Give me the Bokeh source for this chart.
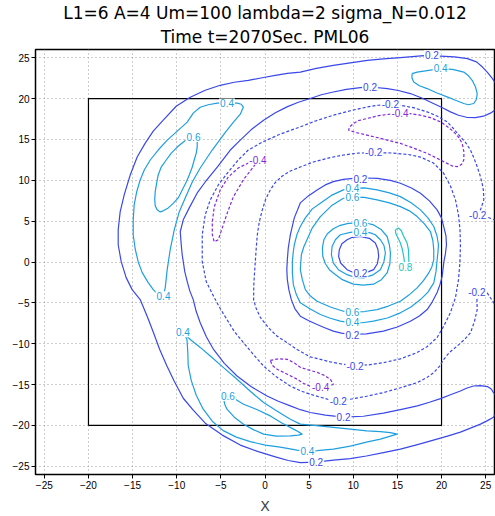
from bokeh.plotting import figure
from bokeh.models import Range1d, FixedTicker, Title
from bokeh.embed import file_html
from bokeh.resources import INLINE
from bokeh.core.properties import value

TITLE_1 = "L1=6 A=4 Um=100 lambda=2 sigma_N=0.012"
TITLE_2 = "Time t=2070Sec. PML06"
TICKS = [-25, -20, -15, -10, -5, 0, 5, 10, 15, 20, 25]
BOX_X = [-20, 20, 20, -20, -20]
BOX_Y = [-20, -20, 20, 20, -20]

# ---- contour lines (data coordinates) ----
# 0.2 : large C-shaped band (closes beyond the right edge)
c1_x = [-11.53,-10.06,-8.47,-6.77,-5.07,-3.48,-1.89,-0.31,1.17,2.53,4.0,5.82,7.74,9.67,11.6,13.41,15.34,16.7,17.95,19.88,21.46,22.94,23.96,24.64,25.2,25.77,26.34,26.68,26.68,26.34,25.54,24.75,23.84,22.94,21.92,21.01,20.1,19.08,17.83,16.47,15.11,13.87,11.94,10.8,9.22,7.74,6.38,5.13,3.78,2.49,1.17,-0.16,-1.55,-2.8,-3.93,-5.41,-6.77,-7.68,-8.58,-9.26,-9.6,-9.49,-9.38,-9.26,-9.09,-8.81,-8.53,-8.13,-7.79,-7.34,-6.66,-5.83,-4.61,-3.17,-1.55,0.23,1.51,2.87,4.0,5.13,6.84,8.88,11.15,13.41,15.34,17.27,18.63,19.88,21.01,22.14,22.82,23.62,24.41,25.2,25.66,25.88,26.34,26.56,26.34,25.88,25.2,24.41,23.28,22.14,20.67,19.08,17.27,15.34,13.41,11.49,9.67,7.74,5.82,4.0,2.64,1.36,-0.76,-2.8,-4.84,-6.77,-8.13,-9.26,-10.28,-11.11,-11.93,-12.63,-13.34,-14.14,-15.05,-15.73,-16.29,-16.63,-16.63,-16.41,-15.95,-15.27,-14.48,-13.57,-12.66,-11.53]
c1_y = [17.35,19.06,20.16,21.01,21.62,21.99,22.23,22.54,22.84,23.09,23.24,23.7,24.06,24.37,24.67,24.85,25.0,25.12,25.24,25.2,25.1,24.88,24.49,23.85,23.21,22.44,21.5,20.4,19.43,18.82,18.21,17.84,17.66,17.68,17.96,18.37,18.88,19.39,20.04,20.61,20.98,21.22,21.41,21.34,21.13,20.8,20.46,20.0,19.55,18.98,18.27,17.35,16.2,14.91,13.7,11.62,9.79,8.45,6.62,5.16,3.7,2.11,0.89,0.04,-1.18,-2.4,-3.5,-4.6,-6.06,-7.44,-9.11,-10.7,-12.4,-13.95,-15.27,-16.39,-17.04,-17.61,-18.07,-18.41,-18.74,-18.99,-18.87,-18.5,-18.07,-17.61,-17.16,-16.71,-16.24,-15.78,-15.45,-15.17,-15.12,-15.24,-15.57,-15.98,-16.55,-17.4,-18.26,-18.99,-19.41,-19.84,-20.33,-20.82,-21.3,-21.8,-22.34,-22.89,-23.32,-23.74,-24.05,-24.23,-24.48,-24.54,-24.29,-23.9,-23.2,-22.4,-21.18,-19.72,-18.13,-16.67,-14.6,-12.73,-10.7,-8.66,-6.67,-4.6,-3.38,-1.91,0.04,2.11,3.94,6.13,8.21,10.65,12.84,14.55,16.01,17.35]

# 0.2 / 0.4 / 0.6 rings of the vortex
c2_x = [10.01,11.49,12.73,14.2,15.34,16.59,17.61,18.63,19.5,19.99,20.25,20.5,20.56,20.44,20.27,20.16,20.07,19.82,19.5,18.97,18.37,17.49,16.47,15.0,13.41,11.49,9.67,8.65,7.74,6.83,5.9,4.91,4.0,3.38,2.98,2.7,2.53,2.47,2.53,2.64,2.87,3.32,4.0,4.91,5.9,6.83,7.74,8.88,10.01]
c2_y = [10.24,10.28,10.24,9.98,9.63,9.06,8.41,7.48,6.38,5.4,4.34,3.21,2.11,1.01,0.04,-0.94,-1.76,-2.77,-3.74,-4.84,-5.82,-6.61,-7.24,-7.95,-8.46,-8.8,-8.87,-8.71,-8.46,-8.07,-7.65,-7.16,-6.63,-5.7,-4.6,-3.38,-2.16,-0.94,0.28,1.74,3.33,5.4,7.23,8.09,8.82,9.43,9.83,10.1,10.24]

c3_x = [9.86,11.26,12.7,14.09,15.34,16.59,17.61,18.46,19.12,19.48,19.65,19.59,19.5,19.37,19.12,18.46,17.61,16.53,15.34,13.87,12.28,11.03,9.86,8.53,7.4,6.27,5.13,4.0,3.55,3.21,3.1,3.1,3.19,3.32,3.61,4.0,4.57,5.36,6.27,7.52,8.88,9.86]
c3_y = [9.02,9.06,8.82,8.45,8.0,7.23,6.38,5.4,4.34,3.21,2.11,1.13,0.28,-1.18,-2.56,-3.68,-4.6,-5.51,-6.22,-6.85,-7.24,-7.43,-7.44,-7.24,-6.88,-6.43,-5.76,-5.0,-3.99,-2.77,-1.3,0.04,1.13,2.11,3.33,4.34,5.4,6.5,7.2,8.15,8.82,9.02]

c4_x = [9.86,11.26,12.7,14.09,15.34,16.36,17.23,18.06,18.74,19.02,19.12,19.12,18.91,18.55,17.95,17.23,16.3,15.34,13.98,12.7,11.26,9.86,8.88,7.4,5.9,5.14,4.57,4.23,4.0,4.06,4.12,4.4,4.76,5.36,6.27,7.52,8.88,9.86]
c4_y = [7.93,7.9,7.6,7.23,6.78,6.26,5.56,4.67,3.73,2.6,1.5,0.28,-0.57,-1.34,-2.28,-3.17,-4.05,-4.8,-5.39,-5.82,-6.06,-6.1,-6.02,-5.51,-4.8,-4.17,-3.38,-2.16,-0.94,0.04,0.89,1.87,2.72,4.18,5.56,6.87,7.8,7.93]

c5_x = [10.8,9.44,8.53,7.74,7.06,6.67,6.5,6.55,6.84,7.29,7.74,8.76,10.01,11.14,12.28,13.19,13.83,14.15,14.21,14.09,13.83,13.19,12.28,11.49,10.8]
c5_y = [4.79,4.73,4.49,4.06,3.45,2.72,1.74,0.68,-0.21,-0.94,-1.34,-2.16,-2.71,-2.83,-2.71,-2.16,-1.34,-0.21,1.1,2.11,3.12,3.94,4.55,4.77,4.79]

c6_x = [10.8,9.67,8.53,7.97,7.6,7.52,7.74,8.31,9.3,10.24,11.18,12.17,13.07,13.47,13.64,13.47,13.07,12.5,11.94,10.8]
c6_y = [3.76,3.63,3.33,2.72,1.9,0.89,-0.12,-0.94,-1.55,-1.89,-1.95,-1.61,-0.94,0.04,1.1,2.05,2.72,3.33,3.57,3.76]

c7_x = [10.8,9.89,9.3,8.71,8.42,8.34,8.59,9.3,10.01,10.8,11.6,12.31,12.73,12.88,12.79,12.5,11.82,10.8]
c7_y = [3.12,3.02,2.72,2.23,1.5,0.68,-0.15,-0.94,-1.28,-1.34,-1.24,-0.94,-0.21,0.68,1.56,2.32,2.9,3.12]

c8_x = [14.77,15.15,15.45,15.68,16.1,16.25,16.28,16.3,16.28,16.08,15.9,15.79,15.71,15.57,15.34,15.05,14.83,14.77]
c8_y = [3.94,4.15,3.82,3.21,2.32,1.5,0.68,0.04,-0.54,-0.7,-0.54,0.04,0.68,1.5,2.32,2.96,3.45,3.94]

# 0.4 top-right
c9_x = [16.67,16.64,16.85,17.49,18.37,19.42,20.63,21.58,22.52,23.05,23.65,23.96,24.04,23.84,23.47,23.05,22.52,21.24,19.88,19.12,18.17,17.23,16.67]
c9_y = [23.05,22.54,22.02,21.56,21.22,20.71,20.2,19.79,19.39,19.24,19.39,19.91,20.61,21.44,22.23,22.78,23.24,23.57,23.66,23.54,23.39,23.24,23.05]

# -0.4 top
c10_x = [15.34,14.2,12.85,11.56,10.58,10.04,9.56,9.48,10.35,11.56,13.41,15.34,16.81,18.37,19.54,20.63,21.24,21.77,22.26,22.52,22.54,22.34,21.92,21.38,20.67,19.88,18.74,17.61,16.47,15.34]
c10_y = [18.24,18.09,17.9,17.56,17.29,16.95,16.5,16.13,15.83,15.52,15.04,14.51,13.94,13.29,12.66,12.07,11.74,11.66,11.93,12.48,13.45,14.51,15.28,15.93,16.56,17.15,17.66,17.96,18.15,18.24]

# -0.4 left
c11_x = [-0.76,-1.89,-3.03,-4.16,-5.07,-5.75,-5.97,-5.97,-5.75,-5.29,-4.84,-4.27,-3.59,-2.46,-1.33,-0.76]
c11_y = [12.48,12.11,11.5,10.4,8.82,6.74,4.91,3.33,2.48,2.72,4.18,6.01,7.96,10.04,11.62,12.48]

# -0.2 ring round the vortex
c12_x = [12.28,14.55,16.25,17.61,19.08,20.22,21.01,21.58,21.92,22.09,22.14,22.09,21.92,21.58,21.01,20.25,19.5,18.4,17.15,15.34,13.41,11.71,10.24,8.88,7.4,6.27,5.13,3.63,2.3,1.36,0.37,-0.53,-1.04,-1.29,-1.27,-1.16,-1.1,-0.99,-0.87,-0.65,-0.3,0.09,0.6,1.17,1.96,2.87,4.0,5.47,7.18,8.88,10.58,12.28]
c12_y = [13.37,13.33,13.15,12.84,12.11,10.89,9.3,7.6,5.77,3.94,2.11,0.04,-2.16,-4.35,-6.18,-7.85,-9.23,-10.33,-11.12,-11.85,-12.32,-12.59,-12.65,-12.52,-12.22,-11.91,-11.61,-10.7,-9.72,-9.07,-8.01,-6.79,-5.57,-4.6,-2.77,-0.94,0.04,1.74,3.33,4.91,6.38,7.72,8.82,9.73,10.52,11.13,11.62,12.23,12.72,13.09,13.33,13.37]

# 0.4 left
c13_x = [-4.27,-5.41,-6.43,-7.34,-8.13,-8.81,-9.94,-11.08,-12.1,-13.0,-13.68,-14.14,-14.54,-14.82,-14.93,-14.93,-14.71,-14.37,-13.91,-13.23,-12.66,-12.1,-11.53,-11.3,-11.08,-10.74,-10.28,-9.72,-9.04,-8.24,-7.34,-5.98,-4.39,-3.48,-2.8,-2.46,-2.69,-3.14,-4.27]
c13_y = [19.43,19.43,19.24,18.94,18.21,17.11,16.01,14.91,13.7,12.48,11.26,10.04,8.57,6.99,5.16,3.33,1.62,0.04,-1.3,-2.52,-3.38,-3.99,-4.23,-3.13,-0.94,1.5,3.94,6.13,7.84,9.79,11.5,13.7,16.01,17.23,18.09,18.94,19.3,19.43,19.43]

# 0.6 left
c14_x = [-8.13,-7.68,-7.68,-7.79,-8.02,-8.24,-8.58,-8.92,-9.38,-9.83,-10.4,-10.96,-11.53,-11.87,-12.21,-12.44,-12.49,-12.44,-12.27,-12.1,-11.76,-11.19,-10.62,-9.94,-9.38,-8.81,-8.13]
c14_y = [15.28,14.67,14.06,13.33,12.48,11.62,10.65,9.79,8.82,7.84,7.17,6.62,6.26,6.13,6.38,6.87,7.72,8.57,9.67,10.65,11.62,12.48,13.33,14.06,14.55,15.04,15.28]

# 0.4 bottom
c15_x = [-9.26,-8.84,-8.75,-8.7,-8.36,-7.79,-7.0,-5.98,-4.73,-3.25,-1.67,0.03,1.73,3.63,4.76,5.9,7.74,9.67,11.49,13.07,14.2,14.97,14.2,13.07,11.56,9.67,7.74,5.82,4.0,2.87,1.39,-0.16,-1.67,-3.17,-4.73,-6.2,-7.34,-8.47,-9.26]
c15_y = [-8.62,-9.48,-10.94,-12.65,-14.48,-16.3,-18.01,-19.48,-20.63,-21.43,-21.98,-22.4,-22.65,-23.01,-23.13,-23.07,-22.89,-22.52,-22.04,-21.67,-21.3,-21.06,-20.88,-20.76,-20.66,-20.45,-20.24,-20.02,-19.84,-19.23,-18.26,-17.2,-15.82,-14.35,-12.89,-11.51,-10.45,-9.48,-8.62]

# 0.6 bottom
c16_x = [-4.69,-4.56,-4.31,-3.48,-2.43,-1.33,-0.16,1.28,2.87,3.78,4.2,3.78,3.24,1.96,0.6,-0.87,-2.43,-3.37,-4.16,-4.69]
c16_y = [-16.79,-17.4,-18.01,-18.99,-19.84,-20.51,-21.06,-21.3,-21.27,-21.18,-21.06,-20.76,-20.45,-19.72,-18.83,-18.07,-17.4,-16.79,-16.43,-16.79]

# -0.4 bottom
c17_x = [0.6,1.51,2.53,3.32,4.0,4.91,5.93,6.72,7.4,7.74,7.06,6.04,5.13,4.34,3.66,2.53,1.39,0.82,0.6]
c17_y = [-12.04,-11.85,-11.91,-12.34,-12.89,-13.2,-13.5,-13.87,-14.35,-14.96,-15.33,-15.39,-15.21,-14.84,-14.35,-13.74,-13.13,-12.65,-12.04]

# -0.2 large band (open to the right edge)
c18_x = [26.68,25.09,24.07,24.41,24.79,24.75,24.6,24.35,24.04,23.67,23.28,22.77,22.14,21.41,20.63,19.54,18.37,16.81,15.34,14.2,12.85,11.6,9.67,7.74,5.82,4.0,1.73,-0.3,-1.89,-3.03,-4.16,-5.29,-6.2,-6.77,-7.11,-7.11,-6.66,-5.75,-5.07,-4.31,-3.48,-2.43,-1.33,-0.16,1.28,2.87,4.0,5.13,6.5,7.74,8.31,9.67,11.49,13.41,15.34,17.23,18.29,19.12,19.76,20.25,20.9,21.77,22.6,23.28,23.73,24.04,24.01,23.96,25.17,25.92,26.68]
c18_y = [4.91,5.52,5.65,6.38,7.6,8.7,9.63,10.65,11.66,12.72,13.7,14.55,15.32,16.26,17.15,17.84,18.37,18.88,19.18,19.3,19.18,18.98,18.51,17.96,17.29,16.54,15.65,14.67,13.7,12.48,11.01,9.43,7.6,5.77,3.33,0.04,-2.4,-4.35,-5.7,-7.04,-8.5,-9.88,-11.3,-12.73,-14.05,-15.17,-15.76,-16.18,-16.61,-17.0,-17.04,-16.79,-16.43,-15.98,-15.39,-14.76,-14.17,-13.54,-12.77,-11.91,-11.06,-10.29,-9.48,-8.66,-7.28,-5.82,-4.6,-3.74,-3.78,-5.0,-6.43]

contours = [
    (0.2, c1_x, c1_y), (0.2, c2_x, c2_y), (0.4, c3_x, c3_y), (0.6, c4_x, c4_y),
    (0.6, c5_x, c5_y), (0.4, c6_x, c6_y), (0.2, c7_x, c7_y), (0.8, c8_x, c8_y),
    (0.4, c9_x, c9_y), (-0.4, c10_x, c10_y), (-0.4, c11_x, c11_y), (-0.2, c12_x, c12_y),
    (0.4, c13_x, c13_y), (0.6, c14_x, c14_y), (0.4, c15_x, c15_y), (0.6, c16_x, c16_y),
    (-0.4, c17_x, c17_y), (-0.2, c18_x, c18_y),
]

# contour labels
lab_text = ["0.2","0.4","0.2","-0.2","-0.4","-0.2","0.2","0.4","0.6","0.6","0.4","0.2","0.8",
            "-0.2","-0.2","0.6","0.4","0.2","-0.2","-0.4","-0.2","0.2","0.4","0.2","0.4","0.6",
            "0.4","0.4","0.6","-0.4"]
lab_x = [18.9,19.9,11.9,14.2,15.3,12.3,10.8,9.9,9.9,10.8,10.8,10.8,15.9,
         24.1,24.0,9.9,9.9,9.9,10.2,6.3,8.3,8.9,4.8,5.8,-9.3,-4.2,
         -11.5,-4.3,-8.1,-0.8]
lab_y = [25.3,23.7,21.4,19.3,18.2,13.4,10.2,9.0,7.9,4.8,3.7,-1.3,-0.6,
         5.7,-3.7,-6.1,-7.4,-8.9,-12.7,-15.3,-17.0,-19.0,-23.1,-24.5,-8.6,-16.4,
         -4.2,19.4,15.3,12.5]
lab_level = [0.2,0.4,0.2,-0.2,-0.4,-0.2,0.2,0.4,0.6,0.6,0.4,0.2,0.8,
             -0.2,-0.2,0.6,0.4,0.2,-0.2,-0.4,-0.2,0.2,0.4,0.2,0.4,0.6,
             0.4,0.4,0.6,-0.4]

LEVEL_COLOR = {-0.4: "#8228dc", -0.2: "#3a48ea", 0.2: "#3a48ea",
               0.4: "#1e9fe0", 0.6: "#1e9fe0", 0.8: "#22c4c4"}

p = figure(width=495, height=516, x_range=Range1d(-26, 26), y_range=Range1d(-26, 26),
           output_backend="svg", toolbar_location=None,
           min_border_left=35, min_border_right=1, min_border_top=48, min_border_bottom=39)
p.title.visible = False
for txt, so in ((TITLE_2, 5), (TITLE_1, 0)):
    p.add_layout(Title(text=txt, align="center", text_font="DejaVu Sans",
                       text_font_size="17px", text_font_style="normal",
                       text_color="black", standoff=so), "above")

for ax in (p.xaxis[0], p.yaxis[0]):
    ax.ticker = FixedTicker(ticks=TICKS)
    ax.major_tick_out = 4
    ax.major_tick_in = 0
    ax.minor_tick_line_color = None
    ax.axis_line_color = "black"
    ax.major_label_text_font = "Liberation Sans"
    ax.major_label_text_font_size = "10px"
    ax.major_label_text_color = "black"
    ax.major_label_standoff = 2
p.xaxis.axis_label = "X"
p.xaxis.axis_label_text_font = "DejaVu Sans"
p.xaxis.axis_label_text_font_size = "14px"
p.xaxis.axis_label_text_font_style = "normal"
p.xaxis.axis_label_standoff = 6

for g in (p.xgrid[0], p.ygrid[0]):
    g.ticker = FixedTicker(ticks=TICKS)
    g.grid_line_color = "#9a9a9a"
    g.grid_line_dash = "1 3"
    g.grid_line_width = 1

p.outline_line_color = "black"
p.outline_line_width = 1.5

p.line(BOX_X, BOX_Y, line_color="black", line_width=1.2)

for lev, xs, ys in contours:
    p.line(xs, ys, line_color=LEVEL_COLOR[lev], line_width=1.2,
           line_dash="3 2" if lev < 0 else "solid", line_join="round")

p.text(x=lab_x, y=lab_y, text=lab_text,
       text_color=[LEVEL_COLOR[l] for l in lab_level],
       text_font=value("Liberation Sans"), text_font_size="10px",
       text_align="center", text_baseline="middle",
       background_fill_color="white", padding=1)

open("out.html", "w").write(file_html(p, INLINE))
